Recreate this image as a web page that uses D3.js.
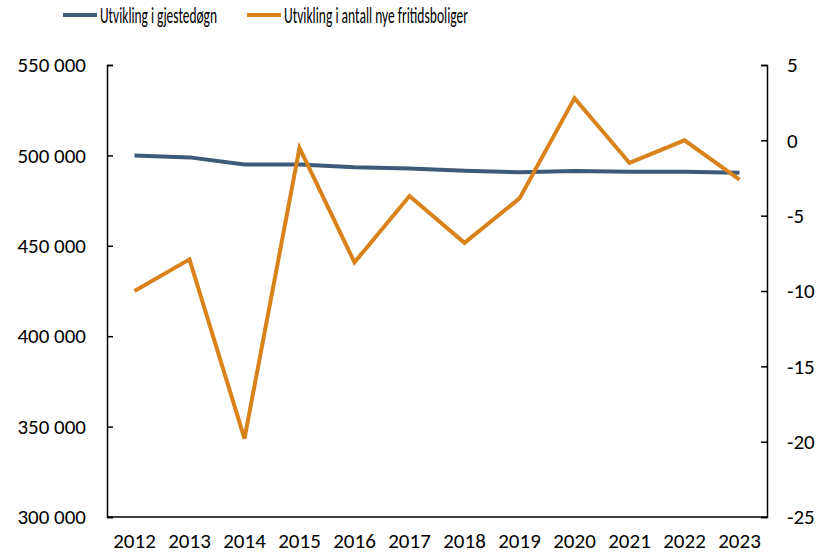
<!DOCTYPE html>
<html>
<head>
<meta charset="utf-8">
<title>Utvikling i gjestedøgn og fritidsboliger</title>
<style>
  body { margin: 0; background: #fff; }
  text { font-family: Calibri, Carlito, "Liberation Sans", sans-serif; fill: #000; }
  .axis path, .axis line { stroke: #000; stroke-width: 1.5; }
</style>
<script src="https://cdn.jsdelivr.net/npm/d3@7"></script>
</head>
<body>
<script>
// data
var years = ["2012", "2013", "2014", "2015", "2016", "2017", "2018", "2019", "2020", "2021", "2022", "2023"];
var gjestedogn = [500000, 498900, 495000, 495000, 493400, 492800, 491500, 490700, 491400, 491000, 491000, 490400];
var fritidsboliger = [-10, -7.9, -19.8, -0.5, -8.1, -3.7, -6.8, -3.85, 2.8, -1.5, 0, -2.6];
var leftTicks = [300000, 350000, 400000, 450000, 500000, 550000];
var rightTicks = [-25, -20, -15, -10, -5, 0, 5];
var seriesNames = ["Utvikling i gjestedøgn", "Utvikling i antall nye fritidsboliger"];
var colors = ["#3c5a7a", "#d9821a"];

var margin = { top: 65, right: 60, bottom: 37, left: 107 },
    W = 827, H = 554,
    width = W - margin.left - margin.right,
    height = H - margin.top - margin.bottom;

var svg = d3.select("body").append("svg")
    .attr("width", W)
    .attr("height", H);
var g = svg.append("g")
    .attr("transform", "translate(" + margin.left + "," + margin.top + ")");

var x = d3.scaleBand().domain(years).range([0, width]);
var yL = d3.scaleLinear().domain([300000, 550000]).range([height, 0]);
var yR = d3.scaleLinear().domain([-25, 5]).range([height, 0]);

var fmt = function(d) { return d3.format(",")(d).replace(/,/g, " "); };

// left axis (ticks inside)
var la = g.append("g").attr("class", "axis")
    .call(d3.axisLeft(yL).tickValues(leftTicks).tickSize(-6).tickSizeOuter(-6).tickPadding(21).tickFormat(fmt));
la.selectAll("text").style("font-size", "21px");

// right axis (ticks inside), plain hyphen for negatives
var ra = g.append("g").attr("class", "axis")
    .attr("transform", "translate(" + width + ",0)")
    .call(d3.axisRight(yR).tickValues(rightTicks).tickSize(-6).tickSizeOuter(-6).tickPadding(20)
      .tickFormat(function(d) { return String(d); }));
ra.selectAll("text").style("font-size", "21px");

// bottom axis, no ticks
var ba = g.append("g").attr("class", "axis")
    .attr("transform", "translate(0," + height + ")")
    .call(d3.axisBottom(x).tickSize(0).tickPadding(16));
ba.selectAll("text").style("font-size", "21px");
ba.select(".domain").attr("d", "M0,0H" + width);

// lines
var lineL = d3.line()
    .x(function(d, i) { return x(years[i]) + x.bandwidth() / 2; })
    .y(function(d) { return yL(d); });
var lineR = d3.line()
    .x(function(d, i) { return x(years[i]) + x.bandwidth() / 2; })
    .y(function(d) { return yR(d); });

g.append("path").datum(gjestedogn)
    .attr("fill", "none").attr("stroke", colors[0]).attr("stroke-width", 4)
    .attr("stroke-linejoin", "round").attr("d", lineL);
g.append("path").datum(fritidsboliger)
    .attr("fill", "none").attr("stroke", colors[1]).attr("stroke-width", 4)
    .attr("stroke-linejoin", "miter").attr("d", lineR);

// legend
var legendX = [63, 247], legendLen = [117, 184];
seriesNames.forEach(function(name, i) {
  svg.append("line")
    .attr("x1", legendX[i]).attr("x2", legendX[i] + 34)
    .attr("y1", 15).attr("y2", 15)
    .attr("stroke", colors[i]).attr("stroke-width", 4);
  svg.append("text")
    .attr("x", legendX[i] + 37).attr("y", 23)
    .style("font-size", "23px")
    .attr("textLength", legendLen[i])
    .attr("lengthAdjust", "spacingAndGlyphs")
    .text(name);
});
</script>
</body>
</html>
